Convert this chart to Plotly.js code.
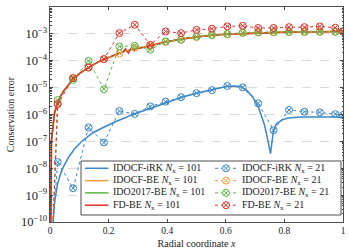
<!DOCTYPE html>
<html><head><meta charset="utf-8">
<script src="https://cdn.plot.ly/plotly-3.0.1.min.js"></script>
<style>html,body{margin:0;padding:0;background:#fff}#chart{width:349px;height:252px}</style>
</head><body><div id="chart"></div>
<script>
// grid for N_x = 21
const x21 = [0, 0.02632, 0.07895, 0.13158, 0.18421, 0.23684, 0.28947, 0.34211, 0.39474, 0.44737, 0.5,
  0.55263, 0.60526, 0.65789, 0.71053, 0.76316, 0.81579, 0.86842, 0.92105, 0.97368, 1];
const iRK21 = [3e-12, 1.7e-8, 1.8e-9, 3.3e-7, 9.1e-8, 1.35e-6, 1.05e-6, 2.0e-6, 3.0e-6, 4.4e-6, 6.2e-6,
  8.1e-6, 1.15e-5, 1.02e-5, 2.6e-6, 2.6e-7, 1.48e-6, 1.27e-6, 1.2e-6, 1.03e-6, 9.6e-7];
const BE21 = [1e-13, 2.5e-6, 2.35e-5, 5.6e-5, 1.15e-4, 1.86e-4, 3.0e-4, 3.55e-4, 5.0e-4, 6.2e-4, 7.6e-4,
  8.9e-4, 9.8e-4, 1.07e-3, 1.12e-3, 1.15e-3, 1.17e-3, 1.17e-3, 1.2e-3, 1.2e-3, 1.23e-3];
const IDO21 = [1e-13, 3.47e-6, 1.95e-5, 1.0e-4, 8.7e-6, 3.4e-4, 3.63e-4, 2.57e-4, 5.25e-4, 6.0e-4, 7.9e-4,
  9.3e-4, 9.8e-4, 1.12e-3, 1.17e-3, 1.17e-3, 1.17e-3, 1.2e-3, 1.2e-3, 1.2e-3, 1.23e-3];
const FD21 = [1e-13, 2.45e-6, 2.24e-5, 5.6e-5, 1.15e-4, 1.07e-3, 2.19e-3, 3.9e-4, 1.23e-3, 1.07e-3, 1.41e-3,
  1.55e-3, 1.9e-3, 2.0e-3, 1.66e-3, 1.66e-3, 1.78e-3, 1.78e-3, 1.9e-3, 1.7e-3, 1.26e-3];

// selected grid points for N_x = 101
const xiRK101 = [0, 0.00505, 0.01515, 0.02525, 0.03535, 0.04545, 0.06566, 0.08586, 0.10606, 0.14646, 0.18687,
  0.22727, 0.28788, 0.34848, 0.39899, 0.44949, 0.5, 0.55051, 0.60101, 0.63131, 0.65152, 0.67172, 0.69192,
  0.71212, 0.73232, 0.74242, 0.75253, 0.76263, 0.77273, 0.79293, 0.81313, 0.85354, 0.90404, 0.95455, 1];
const iRK101 = [1e-13, 1.6e-11, 5.0e-10, 2.4e-9, 6.0e-9, 1.12e-8, 2.8e-8, 5.6e-8, 9.5e-8, 2.1e-7, 3.5e-7,
  5.6e-7, 1.05e-6, 1.78e-6, 2.95e-6, 4.4e-6, 6.2e-6, 8.1e-6, 1.1e-5, 1.15e-5, 1.07e-5, 7.9e-6, 4.5e-6,
  1.78e-6, 4.0e-7, 1.26e-7, 3.5e-8, 2.5e-7, 4.5e-7, 6.3e-7, 7.4e-7, 8.1e-7, 8.3e-7, 8.1e-7, 7.9e-7];

const x101 = [0, 0.00505, 0.01515, 0.02525, 0.03535, 0.04545, 0.06566, 0.08586, 0.10606, 0.12626, 0.14646,
  0.16667, 0.18687, 0.20707, 0.22727, 0.24747, 0.25758, 0.26768, 0.27778, 0.28788, 0.29798, 0.31818,
  0.34848, 0.39899, 0.44949, 0.5, 0.55051, 0.60101, 0.70202, 0.80303, 0.90404, 1];
const BE101 = [1e-13, 1.12e-7, 1.12e-6, 2.63e-6, 4.68e-6, 7.24e-6, 1.38e-5, 2.4e-5, 3.72e-5, 5.25e-5, 7.08e-5,
  9.33e-5, 1.17e-4, 1.45e-4, 1.74e-4, 2.09e-4, 2.29e-4, 2.45e-4, 2.63e-4, 2.82e-4, 2.95e-4, 3.16e-4,
  3.8e-4, 5.13e-4, 6.46e-4, 7.76e-4, 8.91e-4, 9.77e-4, 1.07e-3, 1.15e-3, 1.2e-3, 1.23e-3];
const IDO101 = [1e-13, 1.1e-7, 1.1e-6, 2.6e-6, 4.65e-6, 7.2e-6, 1.37e-5, 2.4e-5, 3.72e-5, 5.25e-5, 7.08e-5,
  9.33e-5, 1.17e-4, 1.45e-4, 1.74e-4, 2.09e-4, 2.29e-4, 2.45e-4, 2.63e-4, 2.82e-4, 2.95e-4, 3.16e-4,
  3.8e-4, 5.13e-4, 6.46e-4, 7.76e-4, 8.91e-4, 9.77e-4, 1.07e-3, 1.15e-3, 1.2e-3, 1.23e-3];
const FD101 = [1e-13, 1.12e-7, 1.12e-6, 2.63e-6, 4.68e-6, 7.24e-6, 1.38e-5, 2.4e-5, 3.72e-5, 5.25e-5, 7.08e-5,
  9.33e-5, 1.17e-4, 1.45e-4, 1.74e-4, 2.09e-4, 2.75e-4, 1.91e-4, 3.02e-4, 2.51e-4, 2.82e-4, 3.16e-4,
  3.8e-4, 5.13e-4, 6.46e-4, 7.76e-4, 8.91e-4, 9.77e-4, 1.07e-3, 1.15e-3, 1.2e-3, 1.23e-3];

const names = ['IDOCF-iRK', 'IDOCF-BE', 'IDO2017-BE', 'FD-BE'];
const resolutions = [101, 21];
const colors = ['#3a86c8', '#f5a041', '#5cb446', '#e2302a'];
const tick_x = [0, 0.2, 0.4, 0.6, 0.8, 1];
const tick_xlabels = ['0', '0.2', '0.4', '0.6', '0.8', '1'];

const FONT = 'Liberation Serif, Times New Roman, serif';
const lab = (n, N) => n + ' <i>N</i><sub>x</sub> = ' + N;

function solid(x, y, i) {
  return {x: x, y: y, type: 'scatter', mode: 'lines', name: lab(names[i], resolutions[0]),
    line: {color: colors[i], width: 1.5}, showlegend: false};
}
function dashed(y, i) {
  return {x: x21, y: y, type: 'scatter', mode: 'lines+markers', name: lab(names[i], resolutions[1]),
    line: {color: colors[i], width: 1, dash: '3px,3px'},
    marker: {symbol: 'circle-x-open', size: 7, color: colors[i], line: {width: 1, color: colors[i]}},
    showlegend: false};
}

const data = [
  solid(xiRK101, iRK101, 0), solid(x101, BE101, 1), solid(x101, IDO101, 2), solid(x101, FD101, 3),
  dashed(iRK21, 0), dashed(BE21, 1), dashed(IDO21, 2), dashed(FD21, 3)
];

// ---- compact two-column legend box (drawn in paper coordinates) ----
const PX0 = 50, PW = 293, PY1 = 222, PH = 215;           // plot area in pixels
const px = v => (v - PX0) / PW, py = v => (PY1 - v) / PH;
const shapes = [{type: 'rect', xref: 'paper', yref: 'paper', x0: px(81), x1: px(341), y0: py(215), y1: py(161),
  fillcolor: '#fff', line: {color: '#222', width: 0.8}, layer: 'above'}];
const annotations = [];
names.forEach((n, i) => {
  const yy = py(168.3 + 12.3 * i);
  shapes.push({type: 'line', xref: 'paper', yref: 'paper', x0: px(85), x1: px(108.5), y0: yy, y1: yy,
    line: {color: colors[i], width: 1.5}, layer: 'above'});
  annotations.push({xref: 'paper', yref: 'paper', x: px(111), y: yy, xanchor: 'left', yanchor: 'middle',
    text: lab(n, resolutions[0]), showarrow: false, font: {family: FONT, size: 10, color: '#222'}});
  shapes.push({type: 'line', xref: 'paper', yref: 'paper', x0: px(215), x1: px(237), y0: yy, y1: yy,
    line: {color: colors[i], width: 1, dash: '3px,3px'}, layer: 'above'});
  const c = {xref: 'paper', yref: 'paper', xsizemode: 'pixel', ysizemode: 'pixel', xanchor: px(226), yanchor: yy, layer: 'above'};
  shapes.push(Object.assign({type: 'circle', x0: -3.5, x1: 3.5, y0: -3.5, y1: 3.5, fillcolor: '#fff',
    line: {color: colors[i], width: 1}}, c));
  shapes.push(Object.assign({type: 'line', x0: -2.4, x1: 2.4, y0: -2.4, y1: 2.4, line: {color: colors[i], width: 1}}, c));
  shapes.push(Object.assign({type: 'line', x0: -2.4, x1: 2.4, y0: 2.4, y1: -2.4, line: {color: colors[i], width: 1}}, c));
  annotations.push({xref: 'paper', yref: 'paper', x: px(240), y: yy, xanchor: 'left', yanchor: 'middle',
    text: lab(n, resolutions[1]), showarrow: false, font: {family: FONT, size: 10, color: '#222'}});
});

const layout = {
  width: 349, height: 252,
  margin: {l: 50, r: 6, t: 7, b: 30},
  paper_bgcolor: '#fff', plot_bgcolor: '#fff',
  font: {family: FONT, size: 9, color: '#222'},
  showlegend: false,
  shapes: shapes, annotations: annotations,
  xaxis: {range: [0, 1], tickvals: tick_x, ticktext: tick_xlabels, ticks: 'inside', ticklen: 3,
    mirror: 'allticks', showline: true, linecolor: '#222', linewidth: 0.8, showgrid: false, zeroline: false,
    tickfont: {family: FONT, size: 9.5}, title: {text: 'Radial coordinate <i>x</i>', font: {family: FONT, size: 10}, standoff: 4}},
  yaxis: {type: 'log', range: [-10, -2], dtick: 1, exponentformat: 'power', ticks: 'inside', ticklen: 3,
    mirror: 'allticks', showline: true, linecolor: '#222', linewidth: 0.8,
    showgrid: true, gridcolor: '#d0d0d0', griddash: 'dash', gridwidth: 0.8, zeroline: false,
    minor: {ticks: 'inside', ticklen: 1.5, dtick: 'D1', showgrid: false},
    tickfont: {family: FONT, size: 10}, title: {text: 'Conservation error', font: {family: FONT, size: 10}, standoff: 4}}
};

Plotly.newPlot('chart', data, layout, {staticPlot: true, displayModeBar: false});
</script></body></html>
